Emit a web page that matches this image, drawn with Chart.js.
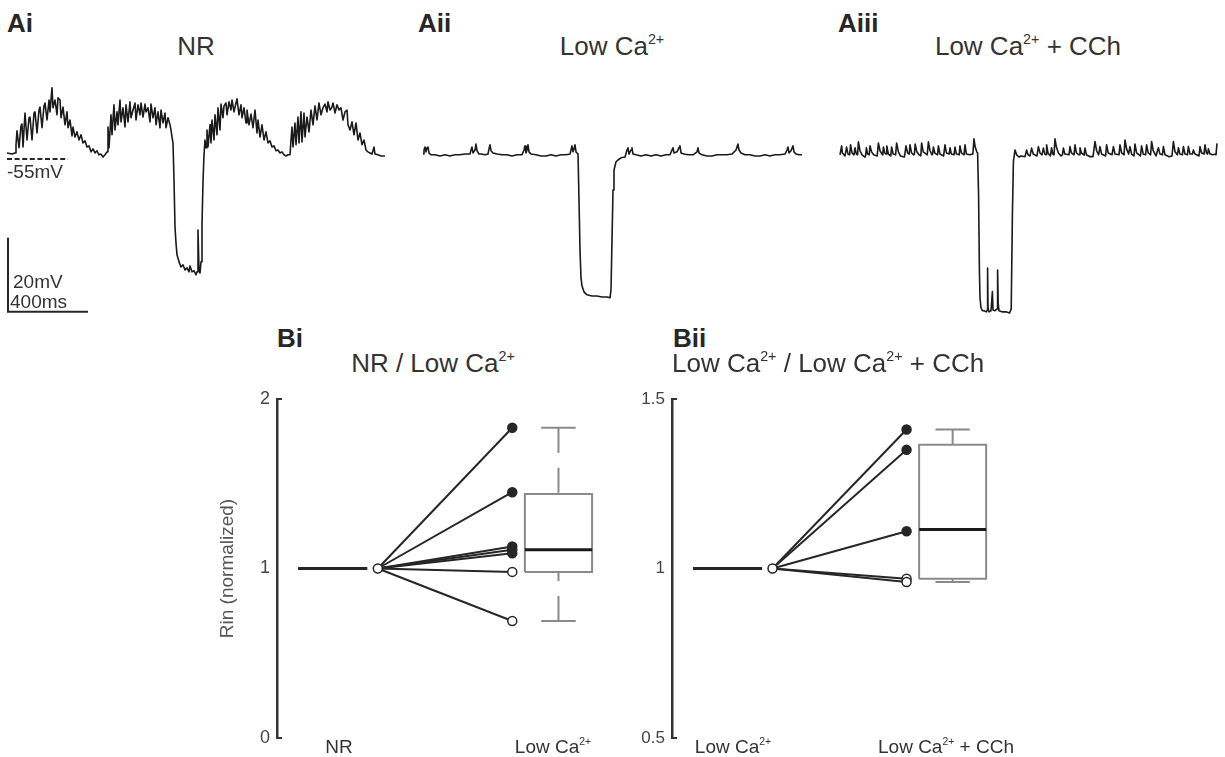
<!DOCTYPE html>
<html>
<head>
<meta charset="utf-8">
<script src="https://cdn.jsdelivr.net/npm/chart.js@4.4.1/dist/chart.umd.min.js"></script>
<style>
  body { margin: 0; background: #fff; }
  #fig { position: relative; width: 1225px; height: 757px; overflow: hidden; font-family: "Liberation Sans", Arial, sans-serif; }
  canvas { position: absolute; }
  .t { position: absolute; white-space: nowrap; line-height: 1; color: #333; }
  .c { transform: translateX(-50%); }
  .panel { font-size: 26px; font-weight: bold; color: #262626; }
  .title { font-size: 26px; }
  .small { font-size: 19px; }
  sup { font-size: .55em; vertical-align: baseline; position: relative; top: -.8em; }
</style>
</head>
<body>
<div id="fig">
  <canvas id="traceAi" width="392" height="250" style="left:0;top:70px"></canvas>
  <canvas id="traceAii" width="392" height="250" style="left:416px;top:70px"></canvas>
  <canvas id="traceAiii" width="392" height="250" style="left:833px;top:70px"></canvas>
  <canvas id="pairBi" width="405" height="377" style="left:212px;top:380px"></canvas>
  <canvas id="pairBii" width="396" height="377" style="left:615px;top:380px"></canvas>

  <div class="t panel" style="left:7px;top:10px">Ai</div>
  <div class="t panel" style="left:418px;top:10px">Aii</div>
  <div class="t panel" style="left:838px;top:10px">Aiii</div>
  <div class="t title c" style="left:196px;top:33px">NR</div>
  <div class="t title c" style="left:612px;top:33px">Low Ca<sup>2+</sup></div>
  <div class="t title c" style="left:1028px;top:33px">Low Ca<sup>2+</sup> + CCh</div>
  <div class="t small" style="left:7px;top:162px">-55mV</div>
  <div class="t small" style="left:13px;top:272px">20mV</div>
  <div class="t small" style="left:10px;top:292px">400ms</div>

  <div class="t panel" style="left:277px;top:325px">Bi</div>
  <div class="t panel" style="left:673px;top:325px">Bii</div>
  <div class="t title c" style="left:433px;top:350px">NR / Low Ca<sup>2+</sup></div>
  <div class="t title" style="left:672px;top:350px">Low Ca<sup>2+</sup> / Low Ca<sup>2+</sup> + CCh</div>
  <div class="t small c" style="left:339px;top:737px">NR</div>
  <div class="t small c" style="left:553px;top:737px">Low Ca<sup>2+</sup></div>
  <div class="t small c" style="left:733px;top:737px">Low Ca<sup>2+</sup></div>
  <div class="t small c" style="left:946px;top:737px">Low Ca<sup>2+</sup> + CCh</div>
</div>

<script>
// ---- membrane potential traces: [time (ms), Vm (mV)] ----
const traceNR = [
  [0,-53.4],[25,-53.7],[40,-53.4],[45,-51.2],[50,-47.4],[60,-52.0],[70,-46.1],[75,-45.6],[80,-51.8],[90,-42.6],
  [100,-49.9],[110,-43.9],[115,-43.7],[125,-49.9],[135,-42.6],[140,-42.3],[150,-48.0],[160,-41.8],[165,-41.0],[175,-46.6],
  [185,-40.7],[190,-39.9],[200,-44.5],[210,-39.1],[215,-42.3],[225,-35.8],[230,-41.2],[240,-39.1],[250,-43.1],[255,-38.5],
  [265,-39.1],[270,-43.9],[280,-41.0],[290,-45.8],[300,-42.3],[305,-46.6],[315,-44.5],[325,-48.8],[330,-46.4],[340,-49.1],
  [350,-47.7],[360,-49.9],[370,-48.5],[380,-50.7],[390,-50.1],[400,-51.8],[410,-51.5],[420,-53.1],[430,-52.3],[440,-53.4],
  [450,-52.8],[460,-53.9],[470,-53.7],[480,-54.5],[490,-53.9],[500,-53.1],[505,-46.4],[510,-52.0],[520,-43.1],[525,-48.5],
  [535,-40.4],[540,-47.2],[550,-42.3],[555,-45.8],[565,-39.1],[570,-45.0],[580,-41.2],[590,-46.4],[595,-40.4],[605,-45.0],
  [615,-39.6],[620,-43.9],[630,-41.8],[640,-39.9],[645,-44.5],[655,-40.4],[665,-43.1],[670,-39.9],[680,-43.7],[690,-40.2],
  [695,-42.3],[705,-41.2],[715,-45.0],[720,-40.2],[730,-43.9],[740,-41.2],[745,-45.8],[755,-42.3],[765,-46.6],[770,-41.8],
  [780,-45.3],[790,-42.6],[795,-46.6],[805,-43.9],[815,-45.8],[820,-47.2],[825,-49.1],[830,-50.7],[835,-60.7],[840,-73.4],
  [845,-77.7],[850,-80.9],[860,-82.8],[870,-84.2],[880,-83.6],[890,-85.0],[900,-84.4],[910,-85.5],[915,-83.9],[925,-85.5],
  [935,-85.2],[945,-86.3],[950,-85.5],[955,-74.2],[960,-85.2],[965,-85.8],[970,-82.8],[975,-72.8],[980,-61.2],[985,-53.9],
  [990,-49.9],[995,-52.0],[1000,-47.2],[1005,-51.8],[1015,-45.8],[1020,-50.7],[1025,-44.5],[1035,-49.9],[1040,-43.1],[1050,-48.5],
  [1055,-41.2],[1065,-47.2],[1070,-40.2],[1080,-43.9],[1085,-40.7],[1095,-39.9],[1100,-43.1],[1110,-39.6],[1120,-41.8],[1125,-39.1],
  [1135,-42.3],[1145,-39.9],[1150,-38.8],[1160,-43.1],[1170,-40.4],[1175,-43.9],[1185,-41.2],[1195,-45.3],[1200,-41.8],[1210,-45.8],
  [1220,-42.9],[1230,-46.6],[1240,-41.8],[1250,-48.0],[1255,-44.5],[1265,-49.1],[1275,-45.8],[1285,-49.9],[1295,-47.7],[1305,-50.7],
  [1315,-50.1],[1325,-51.8],[1335,-51.5],[1345,-52.8],[1355,-52.6],[1365,-53.4],[1375,-53.1],[1385,-53.9],[1395,-54.2],[1405,-53.9],
  [1415,-53.9],[1420,-49.9],[1425,-46.4],[1430,-51.8],[1440,-45.3],[1445,-51.2],[1455,-43.7],[1460,-50.7],[1470,-42.3],[1475,-50.4],
  [1485,-42.6],[1490,-49.1],[1500,-43.7],[1510,-47.7],[1520,-41.8],[1530,-45.8],[1540,-40.7],[1550,-44.5],[1560,-39.9],[1570,-43.1],
  [1580,-41.2],[1590,-40.2],[1600,-42.3],[1605,-39.6],[1615,-41.8],[1625,-41.0],[1630,-39.9],[1640,-42.6],[1650,-40.4],[1660,-41.8],
  [1670,-41.2],[1680,-44.5],[1690,-42.3],[1700,-41.8],[1705,-45.8],[1715,-47.2],[1725,-45.0],[1735,-48.5],[1745,-45.3],[1755,-49.9],
  [1765,-48.0],[1775,-51.2],[1785,-49.9],[1795,-52.6],[1805,-53.1],[1815,-53.4],[1825,-53.7],[1835,-51.8],[1840,-53.7],[1855,-53.9],
  [1870,-54.2],[1890,-54.2]
];

const traceLowCa = [
  [0,-53.7],[5,-52.6],[10,-51.8],[15,-53.1],[20,-52.0],[25,-51.8],[30,-53.4],[40,-53.9],[60,-53.9],[85,-54.2],
  [110,-53.9],[135,-54.2],[160,-53.9],[185,-53.9],[210,-53.7],[235,-53.7],[240,-52.6],[245,-51.8],[250,-53.4],[260,-52.6],
  [265,-51.0],[270,-52.8],[280,-53.7],[290,-53.7],[310,-53.9],[325,-53.7],[330,-52.3],[335,-51.2],[340,-52.8],[350,-53.4],
  [370,-53.7],[395,-53.9],[420,-53.9],[445,-54.2],[470,-53.9],[495,-53.9],[505,-52.6],[510,-51.5],[515,-53.4],[520,-52.6],
  [525,-51.2],[530,-53.1],[540,-53.7],[565,-53.9],[590,-54.2],[615,-54.2],[640,-53.9],[665,-54.2],[690,-53.9],[715,-53.9],
  [735,-53.7],[740,-52.6],[745,-51.5],[750,-53.1],[755,-52.3],[760,-51.2],[765,-53.1],[770,-53.4],[775,-53.7],[780,-66.1],
  [785,-79.6],[790,-87.1],[795,-89.3],[805,-90.9],[820,-91.7],[845,-92.0],[870,-92.0],[895,-92.3],[920,-92.3],[935,-92.5],
  [940,-90.4],[945,-76.9],[950,-63.4],[955,-58.0],[965,-55.8],[975,-55.3],[990,-54.7],[1010,-54.5],[1020,-52.6],[1025,-52.0],
  [1030,-53.7],[1040,-52.6],[1045,-52.0],[1050,-53.7],[1065,-53.9],[1090,-54.2],[1115,-53.9],[1140,-54.2],[1165,-53.9],[1190,-54.2],
  [1215,-53.9],[1235,-53.9],[1245,-52.6],[1250,-52.0],[1255,-53.4],[1270,-53.1],[1280,-52.0],[1285,-51.5],[1290,-53.4],[1305,-53.7],
  [1325,-53.9],[1350,-53.9],[1370,-53.1],[1375,-52.0],[1380,-53.4],[1395,-53.9],[1420,-54.2],[1445,-54.2],[1470,-53.9],[1495,-53.9],
  [1520,-53.9],[1545,-53.7],[1565,-52.6],[1575,-51.0],[1580,-52.6],[1590,-53.4],[1610,-53.9],[1635,-53.9],[1660,-54.2],[1685,-54.2],
  [1710,-53.9],[1735,-54.2],[1760,-53.9],[1785,-53.9],[1810,-53.7],[1820,-52.6],[1825,-51.8],[1830,-53.4],[1840,-52.8],[1850,-51.5],
  [1855,-53.1],[1865,-53.7],[1880,-53.9],[1895,-53.9]
];

const traceLowCaCCh = [
  [0,-53.9],[8,-51.5],[12,-53.4],[25,-54.2],[33,-51.8],[40,-53.7],[48,-53.9],[53,-51.2],[60,-53.4],[70,-53.9],
  [75,-52.0],[82,-53.7],[88,-53.9],[92,-50.4],[100,-52.8],[110,-53.9],[125,-54.5],[128,-54.2],[132,-52.0],[138,-53.7],
  [146,-53.9],[150,-51.5],[158,-53.1],[168,-53.9],[186,-54.2],[192,-50.7],[200,-52.8],[210,-53.7],[214,-53.9],[217,-51.8],
  [224,-53.4],[230,-53.7],[234,-51.5],[242,-53.7],[254,-54.2],[258,-51.8],[266,-53.7],[278,-53.9],[283,-50.7],[292,-53.1],
  [302,-54.2],[322,-54.5],[330,-51.5],[338,-53.4],[346,-53.7],[350,-51.2],[358,-53.4],[368,-53.9],[372,-53.7],[376,-51.0],
  [384,-53.1],[395,-53.9],[404,-54.2],[408,-50.7],[416,-53.1],[436,-53.9],[442,-50.4],[450,-52.8],[460,-53.9],[463,-53.7],
  [467,-51.8],[474,-53.4],[488,-53.9],[492,-51.5],[500,-53.7],[518,-54.2],[525,-51.2],[532,-53.4],[546,-53.7],[550,-52.0],
  [557,-53.7],[570,-53.9],[575,-51.8],[582,-53.7],[596,-53.9],[600,-51.5],[607,-53.4],[620,-53.9],[625,-51.2],[632,-53.7],
  [650,-53.9],[664,-53.7],[670,-49.6],[676,-51.8],[684,-53.1],[688,-53.4],[693,-65.0],[697,-85.0],[700,-92.5],[705,-95.2],
  [712,-96.0],[720,-96.0],[732,-96.3],[736,-95.8],[738,-84.5],[740,-95.2],[745,-96.3],[755,-96.0],[762,-90.8],[765,-95.8],
  [775,-96.0],[785,-95.5],[788,-85.0],[791,-94.0],[795,-96.0],[810,-96.3],[830,-96.3],[848,-96.6],[856,-95.5],[862,-70.0],
  [867,-55.7],[875,-52.6],[883,-53.9],[895,-54.5],[905,-54.2],[925,-54.4],[933,-52.6],[940,-53.9],[950,-54.2],[958,-52.1],
  [966,-53.7],[985,-54.2],[992,-51.7],[1000,-53.4],[1010,-53.9],[1017,-52.1],[1024,-53.7],[1030,-53.9],[1033,-51.2],[1040,-53.4],
  [1052,-54.2],[1058,-52.0],[1064,-53.7],[1070,-53.9],[1075,-49.6],[1082,-51.8],[1092,-53.4],[1105,-54.2],[1112,-53.9],[1117,-52.1],
  [1124,-53.7],[1145,-53.9],[1150,-51.7],[1157,-53.4],[1170,-53.9],[1175,-51.2],[1182,-53.4],[1195,-53.9],[1200,-52.0],[1207,-53.4],
  [1220,-54.0],[1225,-52.1],[1232,-53.9],[1250,-54.4],[1265,-54.4],[1275,-50.3],[1283,-52.8],[1293,-53.9],[1300,-51.7],[1308,-53.7],
  [1328,-54.2],[1333,-51.2],[1341,-53.4],[1360,-53.9],[1367,-51.7],[1375,-53.7],[1395,-53.9],[1400,-51.2],[1408,-53.4],[1420,-53.9],
  [1425,-49.9],[1433,-52.3],[1443,-53.7],[1450,-51.7],[1458,-53.7],[1470,-54.2],[1475,-51.0],[1483,-53.4],[1502,-54.2],[1508,-51.5],
  [1516,-53.7],[1528,-53.9],[1533,-51.2],[1541,-53.4],[1553,-53.9],[1558,-50.3],[1566,-52.8],[1580,-54.2],[1592,-52.0],[1600,-53.7],
  [1612,-53.9],[1617,-51.7],[1625,-53.9],[1645,-54.4],[1660,-54.2],[1667,-50.3],[1675,-53.1],[1687,-53.9],[1692,-52.0],[1700,-53.7],
  [1712,-53.9],[1717,-51.7],[1725,-53.7],[1737,-53.9],[1742,-51.7],[1750,-53.7],[1762,-53.7],[1767,-52.6],[1775,-53.7],[1795,-54.2],
  [1800,-51.7],[1808,-53.4],[1820,-53.7],[1825,-51.2],[1832,-53.4],[1838,-53.7],[1842,-52.3],[1850,-53.7],[1865,-53.9],[1878,-53.7],
  [1880,-53.9],[1885,-50.8]
];

// scale bar (20 mV / 400 ms) and the -55 mV reference
const scaleBar = [[5,-76.3],[5,-96.3],[405,-96.3]];
const restLevel = [[0,-55],[305,-55]];

// ---- normalised input resistance, one value per cell ----
const lowCaRin = [1.83, 1.45, 1.13, 1.11, 1.09, 0.98, 0.69];
const cchRin = [1.41, 1.35, 1.11, 0.97, 0.96];
// box stats: min, q1, median, q3, max
const lowCaBox = [0.69, 0.98, 1.11, 1.44, 1.83];
const cchBox = [0.96, 0.97, 1.115, 1.365, 1.41];

// ---- layout ----
const TRACE_X = { min: -35, max: 1925 };
const TRACE_Y = { min: -98.5, max: -31 };
const POS = { xMin: 0.71, xMax: 2.3, baseFrom: 0.81, baseTo: 1.14, start: 1.19, end: 1.83, box: 2.05, boxHalf: 0.16, capHalf: 0.082 };
const INK = '#262626';
const GRAY = '#8a8a8a';

Chart.defaults.font.family = '"Liberation Sans", Arial, sans-serif';
Chart.defaults.animation = false;

const xy = pts => pts.map(p => ({ x: p[0], y: p[1] }));

function traceChart(id, trace, extra) {
  const datasets = [{ data: xy(trace), showLine: true, borderColor: '#1a1a1a', borderWidth: 1.6, pointRadius: 0, borderJoinStyle: 'round' }];
  (extra || []).forEach(d => datasets.push(d));
  return new Chart(document.getElementById(id), {
    type: 'scatter',
    data: { datasets },
    options: {
      responsive: false,
      events: [],
      layout: { padding: 0 },
      plugins: { legend: { display: false }, tooltip: { enabled: false } },
      scales: {
        x: { type: 'linear', display: false, min: TRACE_X.min, max: TRACE_X.max },
        y: { type: 'linear', display: false, min: TRACE_Y.min, max: TRACE_Y.max }
      }
    }
  });
}

traceChart('traceAi', traceNR, [
  { data: xy(scaleBar), showLine: true, borderColor: INK, borderWidth: 2, pointRadius: 0, borderJoinStyle: 'miter' },
  { data: xy(restLevel), showLine: true, borderColor: INK, borderWidth: 2, borderDash: [5, 2.6], pointRadius: 0 }
]);
traceChart('traceAii', traceLowCa);
traceChart('traceAiii', traceLowCaCCh);

// short inward stubs at both ends of the y axis
const axisStubs = {
  id: 'axisStubs',
  afterDraw(chart) {
    const y = chart.scales.y, ctx = chart.ctx, x0 = chart.chartArea.left;
    ctx.save();
    ctx.strokeStyle = '#333';
    ctx.lineWidth = 2;
    [y.min, y.max].forEach(v => {
      const py = y.getPixelForValue(v);
      ctx.beginPath();
      ctx.moveTo(x0 - 1, py);
      ctx.lineTo(x0 + 5, py);
      ctx.stroke();
    });
    ctx.restore();
  }
};

function line(points, color, width, extra) {
  return Object.assign({ data: points, showLine: true, borderColor: color, borderWidth: width, pointRadius: 0, order: 1 }, extra || {});
}

function pairedChart(id, values, box, yOpts) {
  const [lo, q1, med, q3, hi] = box;
  const L = POS.box - POS.boxHalf, R = POS.box + POS.boxHalf;
  const cL = POS.box - POS.capHalf, cR = POS.box + POS.capHalf;
  const datasets = [
    line([{ x: POS.baseFrom, y: 1 }, { x: POS.baseTo, y: 1 }], INK, 3, { order: 3 }),
    ...values.map(v => line([{ x: POS.start, y: 1 }, { x: POS.end, y: v }], INK, 2, { order: 2 })),
    // box, whiskers (drawn from cap toward box), caps, median
    line([{ x: L, y: q1 }, { x: R, y: q1 }, { x: R, y: q3 }, { x: L, y: q3 }, { x: L, y: q1 }], GRAY, 2, { borderJoinStyle: 'miter' }),
    line([{ x: POS.box, y: hi }, { x: POS.box, y: q3 }], GRAY, 2, { borderDash: [25, 15] }),
    line([{ x: POS.box, y: lo }, { x: POS.box, y: q1 }], GRAY, 2, { borderDash: [25, 15] }),
    line([{ x: cL, y: hi }, { x: cR, y: hi }], GRAY, 2),
    line([{ x: cL, y: lo }, { x: cR, y: lo }], GRAY, 2),
    line([{ x: L, y: med }, { x: R, y: med }], '#1a1a1a', 3, { order: 0 }),
    {
      data: [{ x: POS.start, y: 1 }].concat(values.map(v => ({ x: POS.end, y: v }))),
      showLine: false,
      pointRadius: 4.5,
      pointBorderWidth: 1.5,
      pointBorderColor: INK,
      pointBackgroundColor: ['#fff'].concat(values.map(v => v > 1 ? INK : '#fff')),
      order: 0
    }
  ];
  return new Chart(document.getElementById(id), {
    type: 'scatter',
    data: { datasets },
    plugins: [axisStubs],
    options: {
      responsive: false,
      events: [],
      layout: { padding: { top: 19, bottom: 19, left: 0, right: 0 } },
      plugins: { legend: { display: false }, tooltip: { enabled: false } },
      scales: {
        x: { type: 'linear', display: false, min: POS.xMin, max: POS.xMax },
        y: {
          type: 'linear',
          min: yOpts.min,
          max: yOpts.max,
          afterFit: s => { s.width = yOpts.width; },
          border: { display: true, color: '#333', width: 2.5 },
          grid: { display: false, drawTicks: false },
          ticks: { stepSize: yOpts.step, padding: 7, color: '#444', font: { size: yOpts.tickSize }, callback: v => String(v) },
          title: { display: !!yOpts.title, text: yOpts.title || '', color: '#555', font: { size: 19 } }
        }
      }
    }
  });
}

pairedChart('pairBi', lowCaRin, lowCaBox, { min: 0, max: 2, step: 1, width: 65, tickSize: 18, title: 'Rin (normalized)' });
pairedChart('pairBii', cchRin, cchBox, { min: 0.5, max: 1.5, step: 0.5, width: 57, tickSize: 17 });
</script>
</body>
</html>
